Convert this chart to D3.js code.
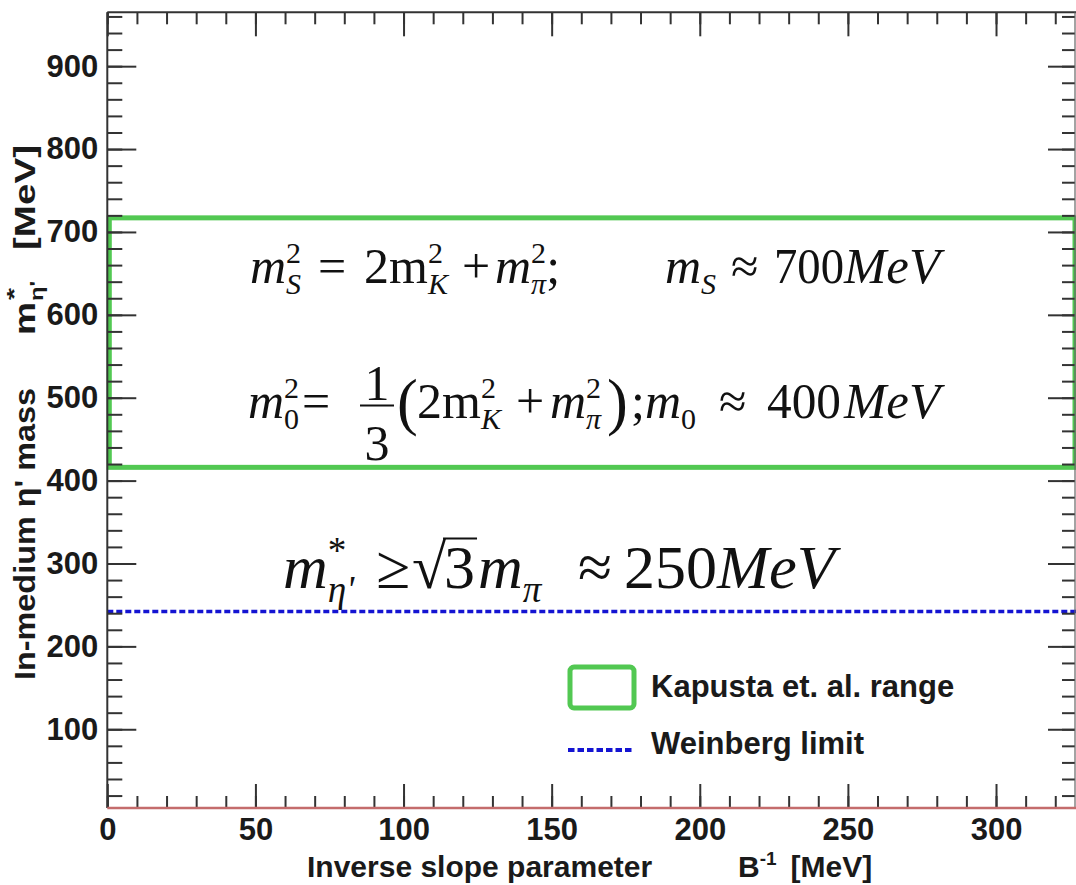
<!DOCTYPE html>
<html><head><meta charset="utf-8">
<script src="https://cdn.jsdelivr.net/npm/d3@7"></script>
<style>body{margin:0;background:#fff} svg{display:block}</style>
</head><body>
<script>
// ---- data ----
const xDomain = [0, 327];
const yDomain = [5, 965];
const xTickValues = [0, 50, 100, 150, 200, 250, 300];
const yTickValues = [100, 200, 300, 400, 500, 600, 700, 800, 900];
const kapustaRange = [416, 717];
const weinbergLimit = 242;
const legendLabels = ["Kapusta et. al. range", "Weinberg limit"];
const xTitleMain = "Inverse slope parameter";
const yTitleMain = "In-medium \u03B7' mass";

// ---- setup ----
const W = 1076, H = 885;
const svg = d3.select("body").append("svg").attr("width", W).attr("height", H);
svg.append("rect").attr("width", W).attr("height", H).attr("fill", "#fff");
const frame = {l: 107.3, r: 1076, t: 12.3, b: 808};
const x = d3.scaleLinear().domain(xDomain).range([frame.l, frame.r]);
const y = d3.scaleLinear().domain(yDomain).range([frame.b, frame.t]);
const SANS = "'Liberation Sans', Arial, sans-serif";
const SERIF = "'Liberation Serif', 'Times New Roman', serif";
const GREEN = "#52c852", BLUE = "#1414d2";
const INK = "#1a1a1a";

// Kapusta band
svg.append("rect")
  .attr("x", x(0) + 2).attr("y", y(kapustaRange[1]))
  .attr("width", x(xDomain[1]) - x(0) - 3)
  .attr("height", y(kapustaRange[0]) - y(kapustaRange[1]))
  .attr("fill", "none").attr("stroke", GREEN).attr("stroke-width", 5);

// Weinberg limit
svg.append("line")
  .attr("x1", x(0)).attr("x2", x(xDomain[1]))
  .attr("y1", y(weinbergLimit)).attr("y2", y(weinbergLimit))
  .attr("stroke", BLUE).attr("stroke-width", 3.5).attr("stroke-dasharray", "6,3");

// ---- axes ----
function styleAxis(g) {
  g.select(".domain").remove();
  g.selectAll(".tick line").attr("stroke", "#333").attr("stroke-width", 2);
  g.selectAll("text").attr("font-family", SANS).attr("font-weight", "bold")
    .attr("font-size", 31).attr("fill", INK);
}
const minorX = d3.range(0, xDomain[1], 10);
const minorY = d3.range(20, yDomain[1], 20);

svg.append("g").attr("transform", `translate(0,${frame.b})`)
  .call(d3.axisBottom(x).tickValues(minorX).tickSize(-12).tickFormat("")).call(styleAxis);
svg.append("g").attr("transform", `translate(0,${frame.b})`)
  .call(d3.axisBottom(x).tickValues(xTickValues).tickSize(-24).tickPadding(10).tickFormat(d3.format("d"))).call(styleAxis);
svg.append("g").attr("transform", `translate(0,${frame.t})`)
  .call(d3.axisTop(x).tickValues(minorX).tickSize(-12).tickFormat("")).call(styleAxis);
svg.append("g").attr("transform", `translate(0,${frame.t})`)
  .call(d3.axisTop(x).tickValues(xTickValues).tickSize(-24).tickFormat("")).call(styleAxis);

svg.append("g").attr("transform", `translate(${frame.l},0)`)
  .call(d3.axisLeft(y).tickValues(minorY).tickSize(-15).tickFormat("")).call(styleAxis);
svg.append("g").attr("transform", `translate(${frame.l},0)`)
  .call(d3.axisLeft(y).tickValues(yTickValues).tickSize(-29).tickPadding(9).tickFormat(d3.format("d"))).call(styleAxis);
svg.append("g").attr("transform", `translate(${frame.r - 1},0)`)
  .call(d3.axisRight(y).tickValues(minorY).tickSize(-13).tickFormat("")).call(styleAxis);
svg.append("g").attr("transform", `translate(${frame.r - 1},0)`)
  .call(d3.axisRight(y).tickValues(yTickValues).tickSize(-27).tickFormat("")).call(styleAxis);

// frame
svg.append("line").attr("x1", frame.l).attr("x2", frame.r).attr("y1", frame.t).attr("y2", frame.t)
  .attr("stroke", "#333").attr("stroke-width", 2);
svg.append("line").attr("x1", frame.l).attr("x2", frame.l).attr("y1", frame.t).attr("y2", frame.b)
  .attr("stroke", "#333").attr("stroke-width", 2);
svg.append("line").attr("x1", frame.r - 1).attr("x2", frame.r - 1).attr("y1", frame.t).attr("y2", frame.b)
  .attr("stroke", "#666").attr("stroke-width", 1.2);
svg.append("line").attr("x1", frame.l).attr("x2", frame.r).attr("y1", frame.b).attr("y2", frame.b)
  .attr("stroke", "#c46c6c").attr("stroke-width", 2.5);

// ---- axis titles ----
const xt = svg.append("text").attr("font-family", SANS).attr("font-weight", "bold")
  .attr("font-size", 30).attr("fill", INK);
xt.append("tspan").attr("x", 307).attr("y", 877).text(xTitleMain);
xt.append("tspan").attr("x", 738).attr("y", 877).text("B");
xt.append("tspan").attr("dy", -12).attr("font-size", 19).text("-1");
xt.append("tspan").attr("dy", 12).attr("dx", 14).text("[MeV]");

function yTitlePart(u, shift, txt, size, len) {
  const t = svg.append("text").attr("font-family", SANS).attr("font-weight", "bold")
    .attr("font-size", size).attr("fill", INK)
    .attr("transform", `translate(${35 + shift},${680 - u}) rotate(-90)`).text(txt);
  if (len) t.attr("textLength", len).attr("lengthAdjust", "spacingAndGlyphs");
  return t;
}
yTitlePart(0, 0, yTitleMain, 30, 292);
yTitlePart(345, 0, "m", 30, 33);
yTitlePart(380, -14, "*", 21, 12);
yTitlePart(379, 8, "\u03B7'", 18, 20);
yTitlePart(430, 0, "[MeV]", 30, 105);

// ---- math annotations ----
function layout(g, base, size, parts) {
  let cx = 0;
  for (const p of parts) {
    if (p.gap !== undefined) { cx += p.gap; continue; }
    if (p.at !== undefined) { cx = p.at; continue; }
    if (p.scripts) {
      const ss = size * 0.6;
      let w = 0;
      if (p.sup) {
        const t = g.append("text").attr("x", cx).attr("y", base - size * 0.4)
          .attr("font-size", ss).attr("font-style", p.supi ? "italic" : "normal").text(p.sup);
        w = Math.max(w, t.node().getComputedTextLength());
      }
      if (p.sub) {
        const t = g.append("text").attr("x", cx).attr("y", base + size * 0.22)
          .attr("font-size", ss).attr("font-style", p.subi === false ? "normal" : "italic").text(p.sub);
        w = Math.max(w, t.node().getComputedTextLength());
      }
      cx += w; continue;
    }
    if (p.frac) {
      const w = p.w;
      g.append("text").attr("x", cx + w / 2).attr("y", base - size * 0.36).attr("font-size", size)
        .attr("text-anchor", "middle").text(p.frac[0]);
      g.append("text").attr("x", cx + w / 2).attr("y", base + size * 0.84).attr("font-size", size)
        .attr("text-anchor", "middle").text(p.frac[1]);
      g.append("line").attr("x1", cx).attr("x2", cx + w).attr("y1", base - size * 0.25).attr("y2", base - size * 0.25)
        .attr("stroke", "#111").attr("stroke-width", 2);
      cx += w + 2; continue;
    }
    if (p.sqrt) {
      const r = g.append("text").attr("x", cx).attr("y", base).attr("font-size", size).text("\u221A");
      const rw = r.node().getComputedTextLength();
      const t = g.append("text").attr("x", cx + rw - 2).attr("y", base).attr("font-size", size).text(p.sqrt);
      const tw = t.node().getComputedTextLength();
      g.append("line").attr("x1", cx + rw - 3).attr("x2", cx + rw + tw).attr("y1", base - size * 0.8).attr("y2", base - size * 0.8)
        .attr("stroke", "#111").attr("stroke-width", 2);
      cx += rw + tw; continue;
    }
    const t = g.append("text").attr("x", cx).attr("y", base + (p.dy || 0))
      .attr("font-size", size * (p.scale || 1)).attr("font-style", p.i ? "italic" : "normal").text(p.t);
    if (p.len) t.attr("textLength", p.len).attr("lengthAdjust", "spacingAndGlyphs");
    cx += p.len || t.node().getComputedTextLength();
  }
  return cx;
}

const math = svg.append("g").attr("font-family", SERIF).attr("fill", "#111");

// row 1
layout(math, 283, 50, [
  {at: 250}, {t: "m", i: true}, {scripts: true, sup: "2", sub: "S"},
  {at: 318}, {t: "="}, {at: 364}, {t: "2m"}, {scripts: true, sup: "2", sub: "K"},
  {at: 462}, {t: "+"}, {at: 495}, {t: "m", i: true}, {scripts: true, sup: "2", sub: "\u03C0"}, {t: ";"},
  {at: 665}, {t: "m", i: true}, {scripts: true, sub: "S"}, {at: 731}, {t: "\u2248"},
  {at: 774}, {t: "700", len: 70}, {at: 844}, {t: "MeV", i: true, len: 96}
]);

// row 2
layout(math, 418, 50, [
  {at: 248}, {t: "m", i: true}, {scripts: true, sup: "2", sub: "0", subi: false},
  {at: 302}, {t: "="}, {at: 360}, {frac: ["1", "3"], w: 34}, {at: 397}, {t: "(", scale: 1.25, dy: 5},
  {at: 417}, {t: "2m"}, {scripts: true, sup: "2", sub: "K"}, {at: 516}, {t: "+"},
  {at: 550}, {t: "m", i: true}, {scripts: true, sup: "2", sub: "\u03C0"}, {at: 607}, {t: ")", scale: 1.25, dy: 5}, {at: 631}, {t: ";"},
  {at: 645}, {t: "m", i: true}, {scripts: true, sub: "0", subi: false}, {at: 719}, {t: "\u2248"},
  {at: 767}, {t: "400", len: 74}, {at: 844}, {t: "MeV", i: true, len: 96}
]);

// row 3
layout(math, 588, 62, [
  {at: 283}, {t: "m", i: true}, {scripts: true, sup: "*", sub: "\u03B7'"},
  {at: 376}, {t: "\u2265"}, {at: 412}, {sqrt: "3"}, {at: 478}, {t: "m", i: true}, {scripts: true, sub: "\u03C0"},
  {at: 578}, {t: "\u2248"}, {at: 624}, {t: "250", len: 93}, {at: 717}, {t: "MeV", i: true, len: 118}
]);

// ---- legend ----
const leg = svg.append("g");
leg.append("rect").attr("x", 570).attr("y", 667).attr("width", 64).attr("height", 41).attr("rx", 4)
  .attr("fill", "none").attr("stroke", GREEN).attr("stroke-width", 5);
leg.append("line").attr("x1", 568).attr("x2", 634).attr("y1", 750).attr("y2", 750)
  .attr("stroke", BLUE).attr("stroke-width", 4).attr("stroke-dasharray", "6.5,3");
leg.selectAll("text.lab").data(legendLabels).join("text").attr("class", "lab")
  .attr("x", 651).attr("y", (d, i) => 697 + i * 57)
  .attr("font-family", SANS).attr("font-weight", "bold").attr("font-size", 31).attr("fill", INK)
  .text(d => d);
</script>
</body></html>
